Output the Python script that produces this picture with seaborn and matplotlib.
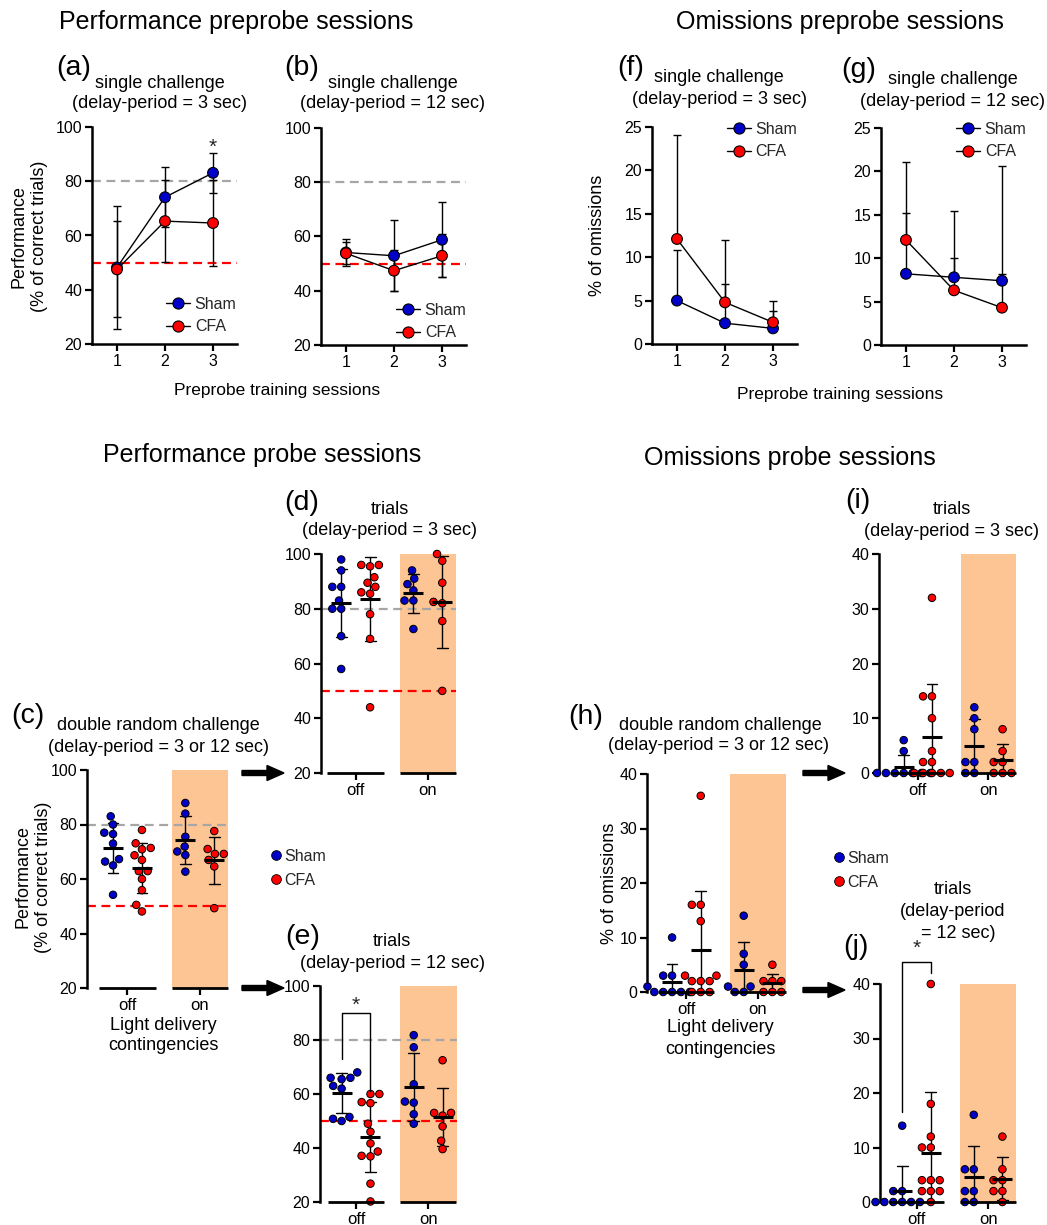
import numpy as np
import pandas as pd
import matplotlib
matplotlib.use("Agg")
import matplotlib.pyplot as plt
import seaborn as sns
from matplotlib.lines import Line2D
from matplotlib.patches import FancyArrow
import warnings
warnings.filterwarnings("ignore")

sns.set_theme(style="ticks")
plt.rcParams['font.family'] = ['Liberation Sans', 'DejaVu Sans']

# ---------------- data ----------------
sessions = [1, 2, 3]
groups = ["Sham", "CFA"]
conditions = ["off", "on"]

# preprobe sessions: mean and SD per session
perf3_sham_mean = [48.2, 74.1, 83.1]
perf3_sham_sd = [22.6, 11.0, 7.3]
perf3_cfa_mean = [47.5, 65.3, 64.6]
perf3_cfa_sd = [17.7, 15.2, 16.0]

perf12_sham_mean = [54.1, 52.9, 58.8]
perf12_sham_sd = [5.0, 13.1, 13.8]
perf12_cfa_mean = [53.8, 47.4, 52.9]
perf12_cfa_sd = [4.0, 7.5, 8.0]

om3_sham_mean = [5.0, 2.4, 1.8]
om3_sham_sd = [5.8, 4.5, 2.0]
om3_cfa_mean = [12.1, 4.8, 2.5]
om3_cfa_sd = [12.0, 7.2, 2.4]

om12_sham_mean = [8.2, 7.8, 7.4]
om12_sham_sd = [7.0, 7.6, 0.8]
om12_cfa_mean = [12.1, 6.3, 4.3]
om12_cfa_sd = [9.0, 3.7, 16.3]

# probe sessions: individual animals
c_sham_off = [83, 80, 77, 76.5, 73, 67.3, 66.4, 65, 54.2]
c_cfa_off = [78, 71.4, 70.9, 73.1, 68.7, 62.9, 67, 62.9, 60, 55.9, 50.5, 48.1]
c_sham_on = [87.9, 84, 75.5, 71.9, 70.1, 68.8, 62.7]
c_cfa_on = [77.6, 69.2, 69.2, 71, 67, 64.6, 49.3]

d_sham_off = [98, 94, 88, 88, 83, 80, 80, 70, 58]
d_cfa_off = [96, 95.5, 96, 91.5, 89.5, 88, 86, 85.5, 78, 69, 44]
d_sham_on = [94, 91, 89, 86.7, 83, 83, 72.6]
d_cfa_on = [100, 97.5, 89.5, 82.5, 82, 75.5, 50]

e_sham_off = [68, 66, 66, 65.5, 63, 62, 51.5, 50.8, 50]
e_cfa_off = [60, 60, 57, 56.6, 49, 46, 41.7, 38.7, 37.1, 36.9, 26.8, 20.2]
e_sham_on = [81.8, 77.3, 63.6, 57.2, 56.8, 52.5, 49]
e_cfa_on = [72.5, 53, 53, 52, 48, 42.7, 39.6]

h_sham_off = [10, 3, 3, 1, 0, 0, 0, 0, 0]
h_cfa_off = [36, 16, 16, 13, 3, 3, 2, 2, 2, 0, 0, 0]
h_sham_on = [14, 7, 5, 1, 1, 0, 0]
h_cfa_on = [5, 2, 2, 2, 0, 0, 0]

i_sham_off = [6, 4, 0, 0, 0, 0, 0, 0, 0]
i_cfa_off = [32, 14, 14, 10, 4, 2, 2, 0, 0, 0, 0, 0]
i_sham_on = [12, 10, 8, 2, 2, 0, 0]
i_cfa_on = [8, 4, 2, 2, 0, 0, 0]

j_sham_off = [14, 2, 2, 0, 0, 0, 0, 0, 0]
j_cfa_off = [40, 18, 12, 10, 10, 4, 4, 4, 2, 2, 2, 0]
j_sham_on = [16, 6, 6, 2, 2, 0, 0]
j_cfa_on = [12, 6, 4, 4, 2, 2, 0]

# ---------------- style ----------------
BLUE = "#0000C8"
RED = "#FF0000"
ORANGE = "#FDC594"
GRAY = "#A6A6A6"
pal = {"Sham": BLUE, "CFA": RED}
blk = {"Sham": "black", "CFA": "black"}

W, H = 1047, 1225
fig = plt.figure(figsize=(W / 100, H / 100), dpi=100)


def rect(x0, y0, x1, y1):
    return [x0 / W, 1 - y1 / H, (x1 - x0) / W, (y1 - y0) / H]


def T(x, y, s, size=13, **kw):
    kw.setdefault("ha", "center")
    kw.setdefault("va", "center")
    fig.text(x / W, 1 - y / H, s, fontsize=size, color="black", **kw)


def style_axes(ax, ylim, yticks, bottom=True):
    ax.set_ylim(*ylim)
    ax.set_yticks(yticks)
    for s in ["top", "right"]:
        ax.spines[s].set_visible(False)
    ax.spines["left"].set_linewidth(1.8)
    ax.spines["bottom"].set_linewidth(1.8)
    ax.spines["left"].set_color("black")
    ax.spines["bottom"].set_color("black")
    if not bottom:
        ax.spines["bottom"].set_visible(False)
    ax.tick_params(axis="both", direction="out", length=5, width=1.6,
                   labelsize=11.5, colors="black", pad=2)
    ax.set_facecolor("none")
    ax.set_xlabel("")
    ax.set_ylabel("")


def pre_panel(ax, sm, ss, cm, cs, ylim, yticks, refs=True, star=False,
              upper_only=False):
    df = pd.DataFrame({
        "session": sessions * 2,
        "val": sm + cm,
        "sd": ss + cs,
        "group": ["Sham"] * 3 + ["CFA"] * 3,
    })
    if refs:
        ax.axhline(80, color=GRAY, lw=1.6, dashes=(4, 2.5), zorder=1)
        ax.axhline(50, color=RED, lw=1.6, dashes=(4, 2.5), zorder=1)
    for g in groups:
        sub = df[df.group == g]
        if upper_only:
            yerr = [np.zeros(len(sub)), sub.sd.values]
        else:
            yerr = sub.sd.values
        ax.errorbar(sub.session, sub.val, yerr=yerr, fmt="none", ecolor="black",
                    elinewidth=1.0, capsize=3.2, capthick=1.0, zorder=2)
    sns.lineplot(data=df, x="session", y="val", hue="group", hue_order=groups,
                 palette=blk, lw=1.0, legend=False, ax=ax, zorder=3)
    sns.scatterplot(data=df, x="session", y="val", hue="group", hue_order=groups,
                    palette=pal, s=60, edgecolor="black", linewidth=0.8,
                    legend=False, ax=ax, zorder=4)
    ax.set_xlim(0.48, 3.5)
    ax.set_xticks(sessions)
    style_axes(ax, ylim, yticks)
    if star:
        ax.text(3, 92.5, "*", ha="center", va="center", fontsize=15)


def probe_panel(ax, so, co, sn, cn, ylim, yticks, xlim, refs=True):
    rows = []
    for cond, g, vals in [("off", "Sham", so), ("off", "CFA", co),
                          ("on", "Sham", sn), ("on", "CFA", cn)]:
        for v in vals:
            rows.append({"cond": cond, "group": g, "val": v})
    df = pd.DataFrame(rows)
    ax.axvspan(0.61, xlim[1], ymin=0, ymax=1, color=ORANGE, lw=0, zorder=0)
    if refs:
        ax.axhline(80, color=GRAY, lw=1.6, dashes=(4, 2.5), zorder=1)
        ax.axhline(50, color=RED, lw=1.6, dashes=(4, 2.5), zorder=1)
    sns.swarmplot(data=df, x="cond", y="val", hue="group", order=conditions,
                  hue_order=groups, palette=pal, dodge=True, size=5.4,
                  edgecolor="black", linewidth=0.7, legend=False, ax=ax,
                  zorder=3, clip_on=False)
    sns.pointplot(data=df, x="cond", y="val", hue="group", order=conditions,
                  hue_order=groups, palette=blk, dodge=0.4, errorbar="sd",
                  markers="_", linestyles="none", markersize=15,
                  markeredgewidth=2.2, capsize=0.15,
                  err_kws={"linewidth": 1.0, "zorder": 2},
                  legend=False, ax=ax, zorder=4)
    ax.set_xlim(*xlim)
    style_axes(ax, ylim, yticks, bottom=False)
    ax.tick_params(axis="x", labelsize=12, pad=2)
    for c in [0, 1]:
        ax.plot([c - 0.39, c + 0.39], [ylim[0], ylim[0]], color="black",
                lw=2.0, solid_capstyle="butt", clip_on=False, zorder=5)
    return df


def legend_lines(x, y, size=11.5, spacing=0.45):
    hs = [Line2D([0], [0], color="black", lw=1.0, marker="o", markersize=8,
                 markerfacecolor=pal[g], markeredgecolor="black",
                 markeredgewidth=0.8) for g in groups]
    fig.legend(hs, groups, loc="upper left",
               bbox_to_anchor=(x / W, 1 - y / H), frameon=False,
               fontsize=size, handlelength=1.5, handletextpad=0.3,
               labelspacing=spacing, borderpad=0, borderaxespad=0)


def legend_dots(x, y, size=11.5):
    hs = [Line2D([0], [0], color="none", lw=0, marker="o", markersize=7,
                 markerfacecolor=pal[g], markeredgecolor="black",
                 markeredgewidth=0.6) for g in groups]
    fig.legend(hs, groups, loc="upper left",
               bbox_to_anchor=(x / W, 1 - y / H), frameon=False,
               fontsize=size, handlelength=0.6, handletextpad=0.2,
               labelspacing=0.55, borderpad=0, borderaxespad=0)


def arrow(x0, x1, y):
    fig.add_artist(FancyArrow(x0 / W, 1 - y / H, (x1 - x0) / W, 0,
                              width=5 / H, head_width=15 / H,
                              head_length=17 / W, length_includes_head=True,
                              color="black", transform=fig.transFigure))


# ---------------- preprobe panels ----------------
ax_a = fig.add_axes(rect(92, 127, 237, 344))
pre_panel(ax_a, perf3_sham_mean, perf3_sham_sd, perf3_cfa_mean, perf3_cfa_sd,
          (20, 100), [20, 40, 60, 80, 100], refs=True, star=True)
ax_b = fig.add_axes(rect(321, 128, 466, 345))
pre_panel(ax_b, perf12_sham_mean, perf12_sham_sd, perf12_cfa_mean, perf12_cfa_sd,
          (20, 100), [20, 40, 60, 80, 100], refs=True)
ax_f = fig.add_axes(rect(652, 127, 797, 344))
pre_panel(ax_f, om3_sham_mean, om3_sham_sd, om3_cfa_mean, om3_cfa_sd,
          (0, 25), [0, 5, 10, 15, 20, 25], refs=False, upper_only=True)
ax_g = fig.add_axes(rect(881, 128, 1026, 345))
pre_panel(ax_g, om12_sham_mean, om12_sham_sd, om12_cfa_mean, om12_cfa_sd,
          (0, 25), [0, 5, 10, 15, 20, 25], refs=False, upper_only=True)

legend_lines(166, 297)
legend_lines(396, 303)
legend_lines(727, 122)
legend_lines(956, 122)

# ---------------- probe panels ----------------
perf_ticks = [20, 40, 60, 80, 100]
om_ticks = [0, 10, 20, 30, 40]
ax_c = fig.add_axes(rect(87, 770, 228, 988))
probe_panel(ax_c, c_sham_off, c_cfa_off, c_sham_on, c_cfa_on,
            (20, 100), perf_ticks, (-0.56, 1.39))
ax_d = fig.add_axes(rect(321, 554, 456, 773))
probe_panel(ax_d, d_sham_off, d_cfa_off, d_sham_on, d_cfa_on,
            (20, 100), perf_ticks, (-0.48, 1.39))
ax_e = fig.add_axes(rect(320, 986, 457, 1202))
probe_panel(ax_e, e_sham_off, e_cfa_off, e_sham_on, e_cfa_on,
            (20, 100), perf_ticks, (-0.50, 1.40))
ax_h = fig.add_axes(rect(647, 774, 786, 992))
probe_panel(ax_h, h_sham_off, h_cfa_off, h_sham_on, h_cfa_on,
            (0, 40), om_ticks, (-0.55, 1.39), refs=False)
ax_i = fig.add_axes(rect(879, 554, 1016, 773))
probe_panel(ax_i, i_sham_off, i_cfa_off, i_sham_on, i_cfa_on,
            (0, 40), om_ticks, (-0.55, 1.39), refs=False)
ax_j = fig.add_axes(rect(880, 984, 1016, 1202))
probe_panel(ax_j, j_sham_off, j_cfa_off, j_sham_on, j_cfa_on,
            (0, 40), om_ticks, (-0.51, 1.39), refs=False)

# significance brackets
ax_e.plot([-0.2, -0.2, 0.2, 0.2], [73, 90, 90, 61], color="black", lw=1.0,
          clip_on=False, zorder=6)
ax_e.text(0, 93, "*", ha="center", va="center", fontsize=15)
ax_j.plot([-0.2, -0.2, 0.2, 0.2], [16.5, 44, 44, 42], color="black", lw=1.0,
          clip_on=False, zorder=6)
ax_j.text(0, 46.5, "*", ha="center", va="center", fontsize=15, clip_on=False)

legend_dots(271, 849)
legend_dots(834, 851)

# arrows
arrow(242, 284, 773)
arrow(242, 284, 988)
arrow(803, 845, 773)
arrow(803, 845, 990)

# ---------------- texts ----------------
T(236, 22, "Performance preprobe sessions", 18)
T(840, 22, "Omissions preprobe sessions", 18)
T(262, 455, "Performance probe sessions", 18)
T(790, 458, "Omissions probe sessions", 18)

T(74, 68, "(a)", 20.5)
T(160, 83, "single challenge", 13)
T(160, 104, "(delay-period = 3 sec)", 13)
T(302, 68, "(b)", 20.5)
T(393, 83, "single challenge", 13)
T(393, 104, "(delay-period = 12 sec)", 13)
T(277, 390, "Preprobe training sessions", 12.5)

T(631, 68, "(f)", 20.5)
T(719, 78, "single challenge", 13)
T(719, 99, "(delay-period = 3 sec)", 13)
T(859, 70, "(g)", 20.5)
T(953, 80, "single challenge", 13)
T(953, 101, "(delay-period = 12 sec)", 13)
T(840, 395, "Preprobe training sessions", 12.5)

T(29, 236, "Performance\n(% of correct trials)", 13, rotation=90, linespacing=1.25)
T(598, 235, "% of omissions", 13, rotation=90)

T(302, 503, "(d)", 20.5)
T(390, 510, "trials", 13)
T(390, 530, "(delay-period = 3 sec)", 13)

T(28, 716, "(c)", 20.5)
T(158, 725, "double random challenge", 13)
T(158, 747, "(delay-period = 3 or 12 sec)", 13)
T(33, 877, "Performance\n(% of correct trials)", 13, rotation=90, linespacing=1.25)
T(163, 1025, "Light delivery", 13)
T(163, 1046, "contingencies", 13)

T(303, 937, "(e)", 20.5)
T(392, 942, "trials", 13)
T(392, 963, "(delay-period = 12 sec)", 13)

T(586, 717, "(h)", 20.5)
T(720, 726, "double random challenge", 13)
T(719, 746, "(delay-period = 3 or 12 sec)", 13)
T(609, 883, "% of omissions", 13, rotation=90)
T(720, 1028, "Light delivery", 13)
T(720, 1049, "contingencies", 13)

T(858, 501, "(i)", 20.5)
T(952, 510, "trials", 13)
T(952, 532, "(delay-period = 3 sec)", 13)

T(856, 947, "(j)", 20.5)
T(953, 890, "trials", 13)
T(953, 912, "(delay-period", 13)
T(958, 933, "= 12 sec)", 13)

fig.savefig("out.png", dpi=100, facecolor="white")
